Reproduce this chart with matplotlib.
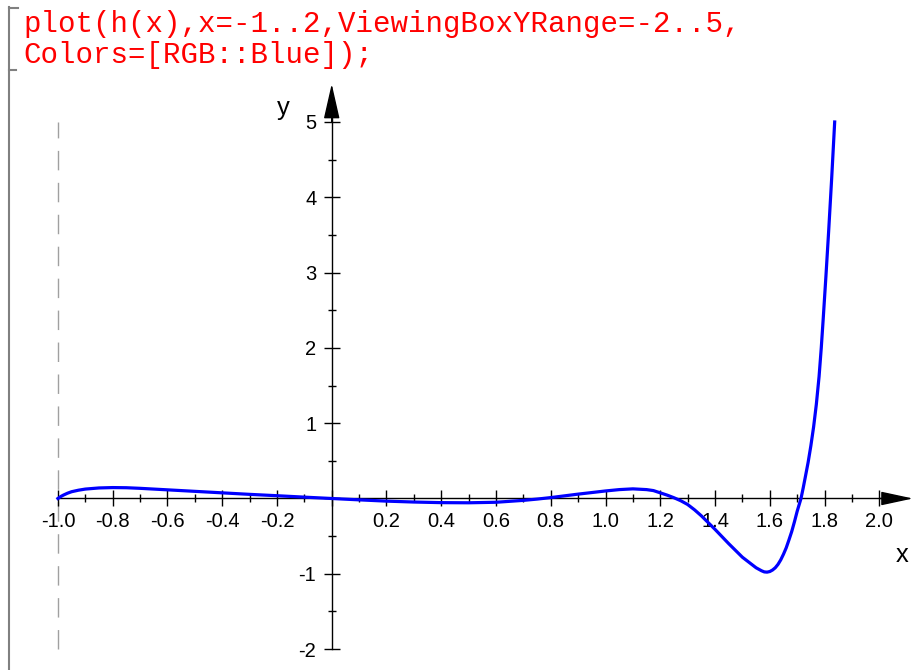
import matplotlib
matplotlib.use("Agg")
import matplotlib.pyplot as plt
import matplotlib.ticker as mticker
import numpy as np

plt.rcParams['font.family'] = ['Liberation Sans', 'DejaVu Sans']
plt.rcParams['xtick.labelsize'] = 14.5
plt.rcParams['ytick.labelsize'] = 14.5

xs = [-1.0, -0.99, -0.98, -0.965, -0.95, -0.925, -0.9, -0.85, -0.8, -0.75, -0.7,
      -0.6, -0.5, -0.4, -0.3, -0.2, -0.1, 0.0, 0.1, 0.2, 0.3, 0.4, 0.5, 0.6,
      0.7, 0.75, 0.8, 0.9, 1.0, 1.05, 1.1, 1.15, 1.175, 1.2, 1.225, 1.25, 1.275,
      1.3, 1.325, 1.35, 1.4, 1.45, 1.5, 1.55, 1.57, 1.58, 1.59, 1.6, 1.61, 1.62,
      1.63, 1.64, 1.65, 1.66, 1.67, 1.68, 1.69, 1.7, 1.714, 1.722, 1.73, 1.74,
      1.75, 1.76, 1.77, 1.78, 1.788, 1.795, 1.805, 1.815, 1.826, 1.837]
hs = [0.0, 0.025, 0.045, 0.07, 0.09, 0.11, 0.125, 0.14, 0.145, 0.143, 0.135,
      0.115, 0.095, 0.075, 0.055, 0.037, 0.018, 0.0, -0.018, -0.035, -0.047,
      -0.055, -0.057, -0.05, -0.025, -0.008, 0.012, 0.058, 0.1, 0.118, 0.128,
      0.118, 0.105, 0.075, 0.045, 0.01, -0.03, -0.08, -0.15, -0.23, -0.41, -0.6,
      -0.78, -0.92, -0.96, -0.975, -0.978, -0.97, -0.95, -0.92, -0.875, -0.815,
      -0.74, -0.655, -0.55, -0.44, -0.31, -0.17, 0.0, 0.14, 0.29, 0.48, 0.7,
      0.95, 1.25, 1.62, 2.0, 2.38, 2.95, 3.55, 4.25, 5.0]

x_range = (-1.0, 2.0)
y_range = (-2, 5)
pole = -1.0

code_lines = ["plot(h(x),x=-1..2,ViewingBoxYRange=-2..5,",
              "Colors=[RGB::Blue]);"]

W, H = 914, 670
fig = plt.figure(figsize=(W / 100, H / 100), dpi=100)
ax = fig.add_axes([0, 0, 1, 1])
ax.set_xlim(-1.2115, 2.1267)
ax.set_ylim(-2.2776, 6.62)
ax.patch.set_alpha(0)

# curve and the dashed pole line
ax.plot(xs, hs, color='#0000ff', lw=2.3, zorder=3, solid_joinstyle='round')
ax.vlines(pole, y_range[0], y_range[1], colors='#a0a0a0', lw=1.0,
          linestyles=(0, (14, 9)), zorder=1)

# axes through the origin
for s in ['top', 'right']:
    ax.spines[s].set_visible(False)
ax.spines['left'].set_position(('data', 0))
ax.spines['bottom'].set_position(('data', 0))
ax.spines['bottom'].set_bounds(x_range[0], 2.03)
ax.spines['left'].set_bounds(y_range[0], 5.1)
ax.spines['left'].set_linewidth(1.0)
ax.spines['bottom'].set_linewidth(1.0)

xmaj = np.round(np.arange(x_range[0], x_range[1] + 0.01, 0.2), 1)
xmin = np.round(np.arange(x_range[0] + 0.1, x_range[1], 0.2), 1)
ymaj = np.arange(y_range[0], y_range[1] + 1)
ymin = np.arange(y_range[0] + 0.5, y_range[1], 1.0)
ax.xaxis.set_major_locator(mticker.FixedLocator(xmaj))
ax.xaxis.set_minor_locator(mticker.FixedLocator(xmin))
ax.yaxis.set_major_locator(mticker.FixedLocator(ymaj))
ax.yaxis.set_minor_locator(mticker.FixedLocator(ymin))
ax.xaxis.set_major_formatter(mticker.FuncFormatter(
    lambda v, p: '' if abs(v) < 1e-9 else f'{v:.1f}'))
ax.yaxis.set_major_formatter(mticker.FuncFormatter(
    lambda v, p: '' if abs(v) < 1e-9 else f'{v:.0f}'))

ax.tick_params(which='major', direction='inout', length=11.5, width=1.0,
               labelsize=14.5, colors='black')
ax.tick_params(which='minor', direction='inout', length=5.8, width=1.0)
ax.tick_params(axis='x', which='major', pad=4.0)
ax.tick_params(axis='y', which='major', pad=5.3)

# arrow heads
ax.annotate('', xy=(2.123, 0), xytext=(2.0, 0),
            arrowprops=dict(arrowstyle='-|>,head_length=2.0,head_width=0.43',
                            mutation_scale=10, color='black', lw=1.0,
                            shrinkA=0, shrinkB=0))
ax.annotate('', xy=(0, 5.505), xytext=(0, 5.0),
            arrowprops=dict(arrowstyle='-|>,head_length=2.2,head_width=0.5',
                            mutation_scale=10, color='black', lw=1.0,
                            shrinkA=0, shrinkB=0))

fig.text(902.3 / W, 1 - 561.5 / H, 'x', fontsize=18.4, ha='center', va='baseline')
fig.text(283.3 / W, 1 - 115 / H, 'y', fontsize=18.4, ha='center', va='baseline')

# input line of the notebook
for i, line in enumerate(code_lines):
    fig.text(23 / W, 1 - (32 + 31 * i) / H, line, color='#ff0000',
             family='Liberation Mono', fontsize=21, ha='left', va='baseline')

# region brackets on the left
gray = '#808080'
fig.add_artist(plt.Line2D([9 / W, 9 / W], [1 - 7 / H, 0], color=gray, lw=1.5))
fig.add_artist(plt.Line2D([9 / W, 18 / W], [1 - 7.5 / H, 1 - 7.5 / H], color=gray, lw=1.5))
fig.add_artist(plt.Line2D([9 / W, 16 / W], [1 - 70 / H, 1 - 70 / H], color=gray, lw=1.5))

fig.savefig('out.png', dpi=100)
